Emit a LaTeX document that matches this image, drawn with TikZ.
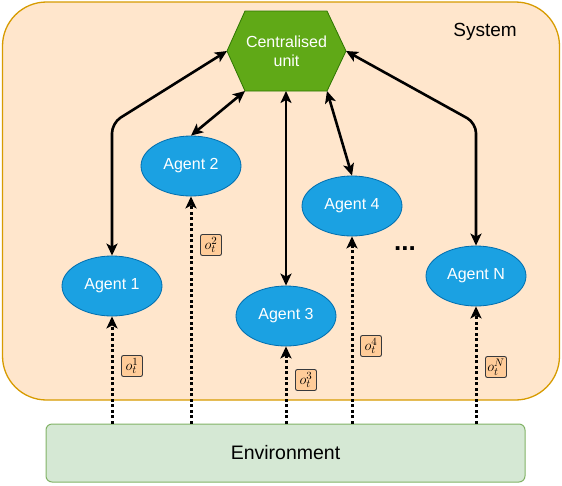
\documentclass[tikz,border=0pt]{standalone}
\usepackage{fontspec}
\setmainfont{Liberation Sans}
\usetikzlibrary{arrows.meta,shapes.geometric}
\definecolor{sysfill}{HTML}{FFE6CC}
\definecolor{sysdraw}{HTML}{D79B00}
\definecolor{cufill}{HTML}{60A917}
\definecolor{cudraw}{HTML}{2D7600}
\definecolor{agfill}{HTML}{1BA1E2}
\definecolor{agdraw}{HTML}{006EAF}
\definecolor{envfill}{HTML}{D5E8D4}
\definecolor{envdraw}{HTML}{82B366}
\definecolor{obsfill}{HTML}{FFCC99}
\definecolor{obsdraw}{HTML}{36393D}
\tikzset{
  agent/.style={ellipse, fill=agfill, draw=agdraw, line width=0.8pt, minimum width=100pt, minimum height=60pt, inner sep=0pt, text=white, font=\fontsize{16}{18}\selectfont},
  obs/.style={rectangle, rounded corners=2pt, fill=obsfill, draw=obsdraw, line width=0.9pt, minimum width=21pt, minimum height=21pt, inner sep=1pt, font=\fontsize{15}{16}\selectfont},
  link/.style={line width=2.6pt, {Stealth[length=12pt,width=11pt,inset=3pt]}-{Stealth[length=12pt,width=11pt,inset=3pt]}},
  sense/.style={line width=3pt, dash pattern=on 3pt off 2.5pt, -{Stealth[length=12pt,width=11pt,inset=3pt]}},
}
\begin{document}
\begin{tikzpicture}[x=1pt,y=-1pt]
\useasboundingbox (0,0) rectangle (562,485);
% system
\node[draw=sysdraw, fill=sysfill, line width=1.3pt, rounded corners=44pt, minimum width=557pt, minimum height=398pt, inner sep=0pt] (sys) at (281,201) {};
\node[font=\fontsize{19}{21}\selectfont] (syslabel) at (485,32) {System};
% environment
\node[draw=envdraw, fill=envfill, line width=1pt, rounded corners=6pt, minimum width=479pt, minimum height=58pt, inner sep=0pt, font=\fontsize{19.5}{21}\selectfont] (env) at (285.5,453) {Environment};
% centralised unit
\fill[cufill, draw=cudraw, line width=0.8pt] (245,11) -- (327,11) -- (346,51) -- (327,91) -- (245,91) -- (227,51) -- cycle;
\node[text=white, align=center, font=\fontsize{16}{19}\selectfont] (cu) at (286.5,51) {Centralised\\unit};
\coordinate (cuL) at (227,51);
\coordinate (cuBL) at (245,91);
\coordinate (cuB) at (286,91);
\coordinate (cuBR) at (327,91);
\coordinate (cuR) at (346,51);
% agents
\node[agent] (a1) at (112,286) {Agent 1};
\node[agent] (a2) at (191,166) {Agent 2};
\node[agent] (a3) at (286,316) {Agent 3};
\node[agent] (a4) at (352,206) {Agent 4};
\node[agent] (aN) at (476,276) {Agent N};
\node[font=\bfseries\fontsize{26}{26}\selectfont] (dots) at (405,249) {...};
% links
\draw[link, rounded corners=10pt] (a1.north) -- (112,123) -- (cuL);
\draw[link] (a2.north) -- (cuBL);
\draw[link] (a3.north) -- (cuB);
\draw[link] (a4.north) -- (cuBR);
\draw[link, rounded corners=10pt] (aN.north) -- (476,123) -- (cuR);
% sensing
\draw[sense] (env.north -| a1.south) -- (a1.south);
\draw[sense] (env.north -| a2.south) -- (a2.south);
\draw[sense] (env.north -| a3.south) -- (a3.south);
\draw[sense] (env.north -| a4.south) -- (a4.south);
\draw[sense] (env.north -| aN.south) -- (aN.south);
% observations
\node[obs] (o1) at (132,366) {$o_t^1$};
\node[obs] (o2) at (211,245) {$o_t^2$};
\node[obs] (o3) at (306,380) {$o_t^3$};
\node[obs] (o4) at (371,346) {$o_t^4$};
\node[obs] (oN) at (496,367) {$o_t^N$};
\end{tikzpicture}
\end{document}
